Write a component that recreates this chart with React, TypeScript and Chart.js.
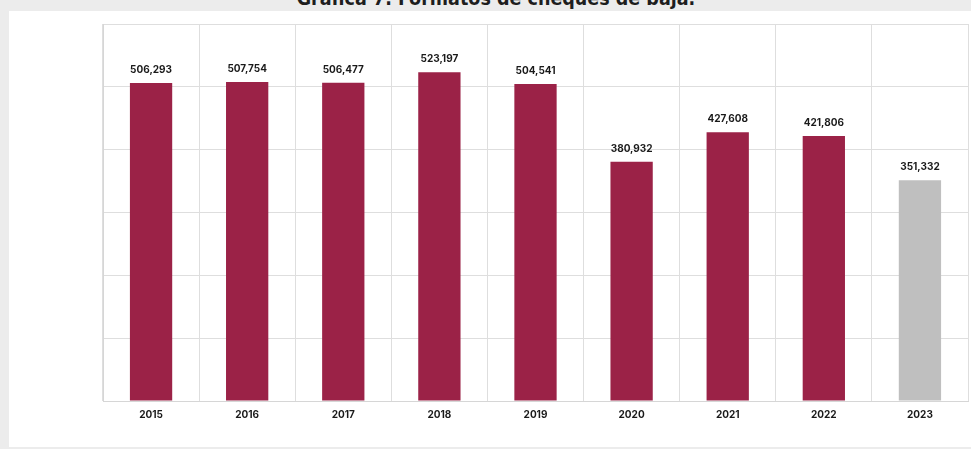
import React, { useEffect, useRef } from "react";
import { Chart, registerables } from "chart.js";

Chart.register(...registerables);

const years = ["2015", "2016", "2017", "2018", "2019", "2020", "2021", "2022", "2023"];
const values = [506293, 507754, 506477, 523197, 504541, 380932, 427608, 421806, 351332];
const barColors = ["#9b2247", "#9b2247", "#9b2247", "#9b2247", "#9b2247", "#9b2247", "#9b2247", "#9b2247", "#bfbfbf"];
const yMax = 600000;
const yStep = 100000;
const title = "Gráfica 7. Formatos de cheques de baja.";

const valueLabels = {
  id: "valueLabels",
  afterDatasetsDraw(chart: any) {
    const ctx = chart.ctx;
    const meta = chart.getDatasetMeta(0);
    ctx.save();
    ctx.font = "bold 10px Inter, 'Open Sans', sans-serif";
    ctx.fillStyle = "#1a1a1a";
    ctx.textAlign = "center";
    ctx.textBaseline = "bottom";
    meta.data.forEach((bar: any, i: number) => {
      const v = chart.data.datasets[0].data[i] as number;
      ctx.fillText(v.toLocaleString("en-US"), bar.x, bar.y - 8);
    });
    ctx.restore();
  },
};

export default function App() {
  const ref = useRef<HTMLCanvasElement | null>(null);
  useEffect(() => {
    if (!ref.current) return;
    const chart = new Chart(ref.current, {
      type: "bar",
      data: {
        labels: years,
        datasets: [
          {
            data: values,
            backgroundColor: barColors,
            borderWidth: 0,
            barPercentage: 0.44,
            categoryPercentage: 1,
          },
        ],
      },
      options: {
        animation: false,
        responsive: false,
        maintainAspectRatio: false,
        layout: { padding: { left: 94, top: 13, right: 3, bottom: 0 } },
        plugins: { legend: { display: false }, tooltip: { enabled: false }, title: { display: false } },
        scales: {
          x: {
            grid: { color: "#dedede", lineWidth: 1, drawTicks: false, offset: true },
            border: { color: "#d6d6d6" },
            ticks: {
              padding: 8,
              color: "#1a1a1a",
              font: { family: "Inter, 'Open Sans', sans-serif", size: 10, weight: "bold" },
            },
            afterFit(scale: any) {
              scale.height = 46;
            },
          },
          y: {
            min: 0,
            max: yMax,
            ticks: { stepSize: yStep, display: false },
            grid: { color: "#dedede", lineWidth: 1, drawTicks: false },
            border: { color: "#d6d6d6" },
            afterFit(scale: any) {
              scale.width = 0;
            },
          },
        },
      },
      plugins: [valueLabels],
    });
    return () => chart.destroy();
  }, []);

  return (
    <div style={{ position: "fixed", left: 0, top: 0, width: 971, height: 449, background: "#ececec", overflow: "hidden" }}>
      <div
        style={{
          position: "absolute",
          left: 0,
          top: -11,
          width: 992,
          textAlign: "center",
          fontFamily: "'DejaVu Sans Condensed', 'DejaVu Sans', sans-serif",
          fontSize: 19.5,
          fontWeight: 600,
          color: "#1e1e1e",
          whiteSpace: "nowrap",
          lineHeight: "20px",
        }}
      >
        {title}
      </div>
      <div style={{ position: "absolute", left: 9, top: 11, width: 962, height: 436, background: "#ffffff" }}>
        <canvas ref={ref} width={962} height={436} style={{ display: "block" }} />
      </div>
    </div>
  );
}
